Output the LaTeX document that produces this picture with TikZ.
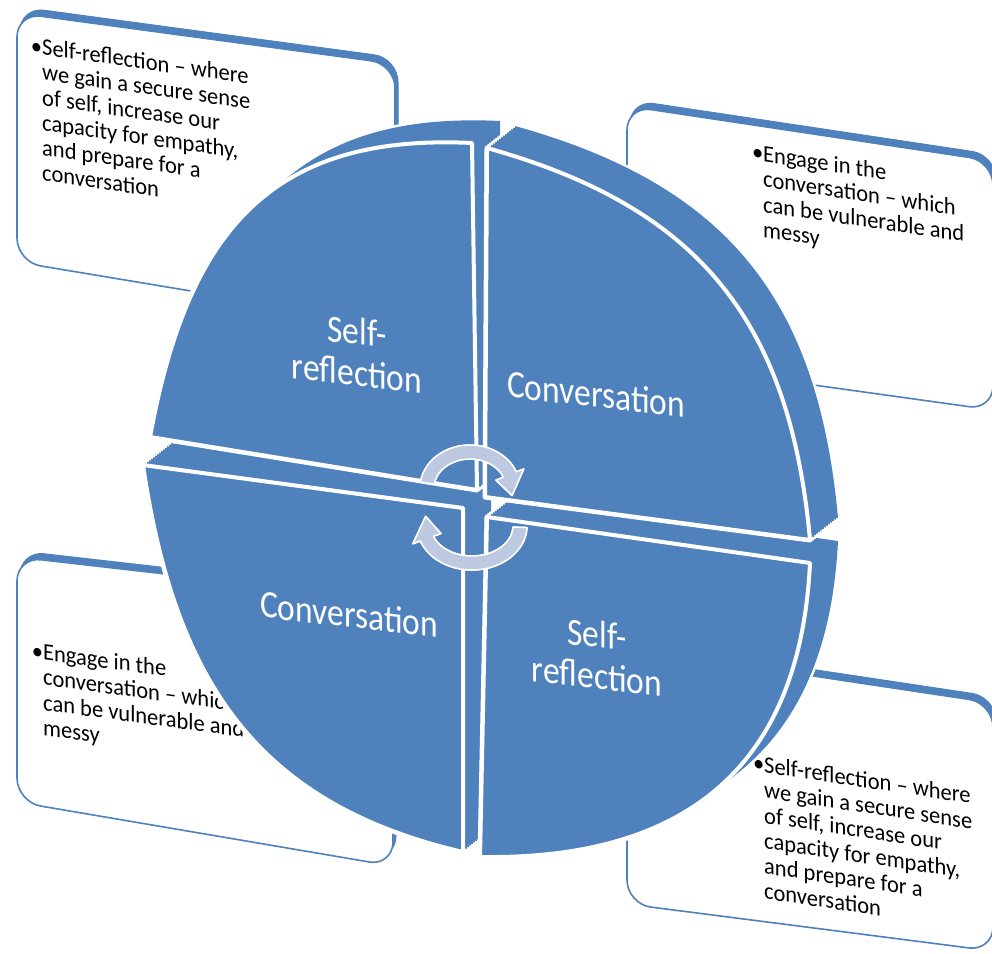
\documentclass[tikz,border=0pt]{standalone}
\usepackage{fontspec}
\setmainfont{Carlito}
\usetikzlibrary{calc}
\definecolor{discblue}{HTML}{4F81BD}
\definecolor{arrowfill}{HTML}{BCC9E1}
\definecolor{arrowside}{HTML}{9DB1D4}
\tikzset{
  pTL/.style={insert path={(477,490) -- (150,437) .. controls (187,235.5) and (267,133) .. (472,143) -- cycle}},
  pTR/.style={insert path={(485,497) -- (487,148) .. controls (699,207) and (790,321) .. (810,540) -- cycle}},
  pBL/.style={insert path={(463,508) -- (143,465) .. controls (174.4,677.6) and (253.6,803.4) .. (463,852) -- cycle}},
  pBR/.style={insert path={(487,517) -- (810,563) .. controls (800,767.8) and (685,860) .. (480,857) -- cycle}},
  boxback/.style={fill=discblue, draw=discblue, line width=1pt, rounded corners=24pt},
  boxfront/.style={fill=white, draw=discblue, line width=1.6pt, rounded corners=24pt},
  boxtext/.style={anchor=north west, inner sep=0pt, align=left, text=black,
     font=\fontsize{22.5}{24}\selectfont, yscale=1.05},
  disclabel/.style={inner sep=0pt, align=center, text=white,
     font=\fontsize{33.5}{36}\selectfont, yscale=1.15, yslant=-0.1},
  arrowstyle/.style={fill=arrowfill, draw=white, line width=1.5pt, line join=round},
  arrowback/.style={fill=arrowside, draw=white, line width=1.5pt, line join=round}
}
\newcommand\discpiece[1]{%
  \foreach \nn in {0,...,14}{\draw[white,line width=5pt,line join=round,shift={({2*\nn},{-1.5714*\nn})},#1];}
  \foreach \nn in {0,...,14}{\fill[discblue,shift={({2*\nn},{-1.5714*\nn})},#1];}
  \filldraw[fill=discblue,draw=white,line width=4pt,line join=round,#1];}
\begin{document}
\begin{tikzpicture}[x=1pt,y=-1pt]
\fill[white] (0,0) rectangle (992,953);
\useasboundingbox (0,0) rectangle (992,953);

% text boxes (behind the disc)
\fill[boxback,shift={(3,-6)}] (17,13) -- (395,64) -- (395,325) -- (17,262) -- cycle;
\filldraw[boxfront] (17,13) -- (395,64) -- (395,325) -- (17,262) -- cycle;
\fill[boxback,shift={(3,-6)}] (627,106) -- (993,161) -- (993,410) -- (627,359) -- cycle;
\filldraw[boxfront] (627,106) -- (993,161) -- (993,410) -- (627,359) -- cycle;
\fill[boxback,shift={(3,-6)}] (17,557) -- (393,600) -- (393,866) -- (17,802) -- cycle;
\filldraw[boxfront] (17,557) -- (393,600) -- (393,866) -- (17,802) -- cycle;
\fill[boxback,shift={(3,-6)}] (627,648) -- (993,703) -- (993,951) -- (627,904) -- cycle;
\filldraw[boxfront] (627,648) -- (993,703) -- (993,951) -- (627,904) -- cycle;

\node[boxtext, yslant=-0.135] (tTL) at (42,38) {\llap{\textbullet}Self-reflection – where\\we gain a secure sense\\of self, increase our\\capacity for empathy,\\and prepare for a\\conversation};
\node[boxtext, yslant=-0.14] (tTR) at (763,145) {\llap{\textbullet}Engage in the\\conversation – which\\can be vulnerable and\\messy};
\node[boxtext, yslant=-0.13] (tBL) at (43,643) {\llap{\textbullet}Engage in the\\conversation – which\\can be vulnerable and\\messy};
\node[boxtext, yslant=-0.143] (tBR) at (764,756) {\llap{\textbullet}Self-reflection – where\\we gain a secure sense\\of self, increase our\\capacity for empathy,\\and prepare for a\\conversation};

% disc pieces
\discpiece{pBL}
\discpiece{pTL}
\discpiece{pBR}
\discpiece{pTR}

\node[disclabel] (lTL) at (357,352) {Self-\\reflection};
\node[disclabel] (lTR) at (596,394) {Conversation};
\node[disclabel] (lBL) at (349,614) {Conversation};
\node[disclabel] (lBR) at (597,655) {Self-\\reflection};

% central cycle arrows
\coordinate (ca) at (470,488);
\coordinate (cb) at (472,526);
\filldraw[arrowback,shift={(4,-4)}] ($(ca)+(172:50pt and 43pt)$) arc[start angle=172,end angle=22,x radius=50pt,y radius=43pt] -- ($(ca)+(22:58pt and 51pt)$) -- ($(ca)+(-12:43pt and 36pt)$) -- ($(ca)+(22:28pt and 21pt)$) -- ($(ca)+(22:36pt and 29pt)$) arc[start angle=22,end angle=172,x radius=36pt,y radius=29pt] -- cycle;
\filldraw[arrowstyle] ($(ca)+(172:50pt and 43pt)$) arc[start angle=172,end angle=22,x radius=50pt,y radius=43pt] -- ($(ca)+(22:58pt and 51pt)$) -- ($(ca)+(-12:43pt and 36pt)$) -- ($(ca)+(22:28pt and 21pt)$) -- ($(ca)+(22:36pt and 29pt)$) arc[start angle=22,end angle=172,x radius=36pt,y radius=29pt] -- cycle;
\filldraw[arrowback,shift={(4,-4)}] ($(cb)+(-2:55pt and 44pt)$) arc[start angle=-2,end angle=-160,x radius=55pt,y radius=44pt] -- ($(cb)+(-160:63pt and 52pt)$) -- ($(cb)+(-195:48pt and 37pt)$) -- ($(cb)+(-160:33pt and 22pt)$) -- ($(cb)+(-160:41pt and 30pt)$) arc[start angle=-160,end angle=-2,x radius=41pt,y radius=30pt] -- cycle;
\filldraw[arrowstyle] ($(cb)+(-2:55pt and 44pt)$) arc[start angle=-2,end angle=-160,x radius=55pt,y radius=44pt] -- ($(cb)+(-160:63pt and 52pt)$) -- ($(cb)+(-195:48pt and 37pt)$) -- ($(cb)+(-160:33pt and 22pt)$) -- ($(cb)+(-160:41pt and 30pt)$) arc[start angle=-160,end angle=-2,x radius=41pt,y radius=30pt] -- cycle;
\end{tikzpicture}
\end{document}
